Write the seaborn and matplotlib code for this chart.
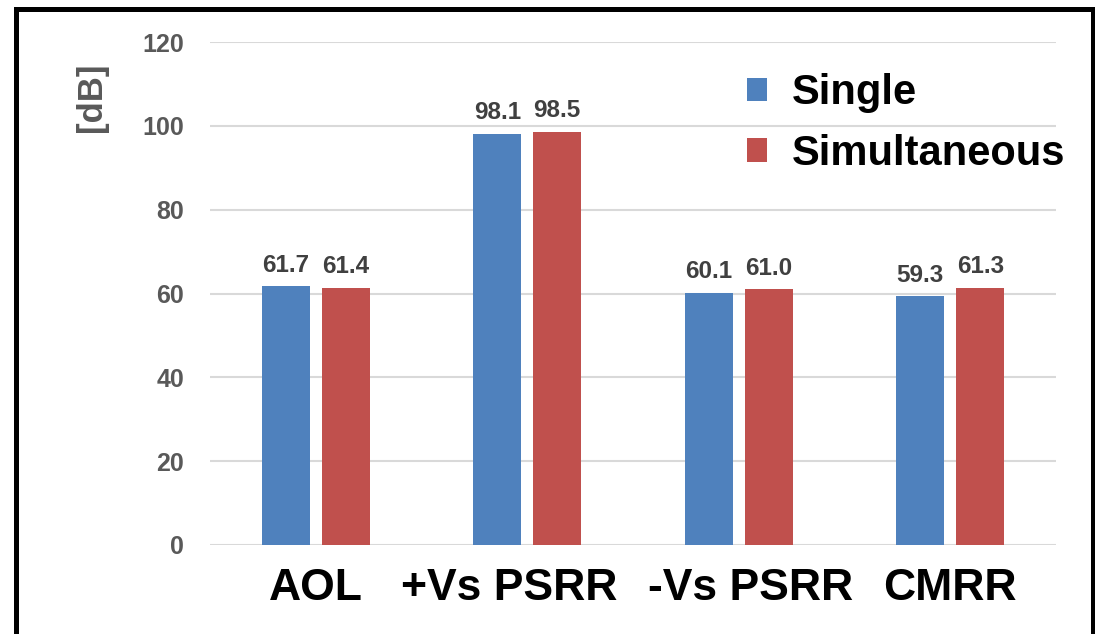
import matplotlib
matplotlib.use("Agg")
import matplotlib.pyplot as plt
import matplotlib.transforms as mtransforms
from matplotlib.lines import Line2D
import seaborn as sns
import pandas as pd

categories = ["AOL", "+Vs PSRR", "-Vs PSRR", "CMRR"]
single_vals = [61.7, 98.1, 60.1, 59.3]
simult_vals = [61.4, 98.5, 61.0, 61.3]
series_names = ["Single", "Simultaneous"]
y_ticks = [0, 20, 40, 60, 80, 100, 120]

df = pd.DataFrame({
    "category": categories * 2,
    "value": single_vals + simult_vals,
    "series": [series_names[0]] * len(categories) + [series_names[1]] * len(categories),
})

sns.set_style("white")
plt.rcParams["font.family"] = ["Liberation Sans", "DejaVu Sans"]

W, H = 1095, 634
fig = plt.figure(figsize=(W / 100, H / 100), dpi=100)
ax = fig.add_axes([210 / W, (H - 545) / H, (1056 - 210) / W, (545 - 42) / H])

palette = {"Single": "#4F81BD", "Simultaneous": "#C0504D"}
sns.barplot(data=df, x="category", y="value", hue="series", order=categories,
            hue_order=series_names, palette=palette, width=0.567, gap=0.2,
            saturation=1, ax=ax, errorbar=None, edgecolor="none", zorder=3)

ax.set_xlim(-0.5, len(categories) - 0.5)
ax.set_ylim(0, 120)
ax.set_yticks(y_ticks)
ax.yaxis.grid(True, color="#D9D9D9", linewidth=1.5, zorder=0)
ax.xaxis.grid(False)
for s in ax.spines.values():
    s.set_visible(False)

ax.tick_params(axis="y", length=0, pad=18.5, labelsize=18, labelcolor="#595959")
ax.tick_params(axis="x", length=0, pad=16.5, labelsize=32)
for lbl in ax.get_yticklabels():
    lbl.set_fontweight("bold")
ax.set_xticks(range(len(categories)))
ax.set_xticklabels(categories, fontweight="bold", color="black")
shifts_px = [0, -18, 12, 0]
for lbl, dx in zip(ax.get_xticklabels(), shifts_px):
    lbl.set_transform(lbl.get_transform() +
                      mtransforms.ScaledTranslation(dx / 100, 0, fig.dpi_scale_trans))

ax.set_xlabel("")
ax.set_ylabel("[dB]", fontsize=25, fontweight="bold", color="#595959")
ax.yaxis.set_label_coords((108 - 210) / (1056 - 210), (545 - 97) / (545 - 42))

# value labels above each bar
for container in ax.containers:
    ax.bar_label(container, fmt="%.1f", padding=7, fontsize=17.5,
                 fontweight="bold", color="#404040")

handles, labels = ax.get_legend_handles_labels()
ax.legend(handles, labels, loc="upper left",
          bbox_to_anchor=(747 / W, 1 - 73 / H), bbox_transform=fig.transFigure,
          frameon=False, borderpad=0, borderaxespad=0,
          prop={"size": 30, "weight": "bold"}, labelcolor="black",
          handlelength=0.48, handleheight=0.48, handletextpad=0.6,
          labelspacing=0.5)

# black frame around the chart
lw = 5 * 0.72
frame_kw = dict(color="black", linewidth=lw, solid_capstyle="projecting")
fig.add_artist(Line2D([15.5 / W, 15.5 / W], [0, 1 - 9 / H], transform=fig.transFigure, **frame_kw))
fig.add_artist(Line2D([15.5 / W, 1092.5 / W], [1 - 9 / H, 1 - 9 / H], transform=fig.transFigure, **frame_kw))
fig.add_artist(Line2D([1092.5 / W, 1092.5 / W], [0, 1 - 9 / H], transform=fig.transFigure, **frame_kw))

fig.savefig("out.png", dpi=100)
